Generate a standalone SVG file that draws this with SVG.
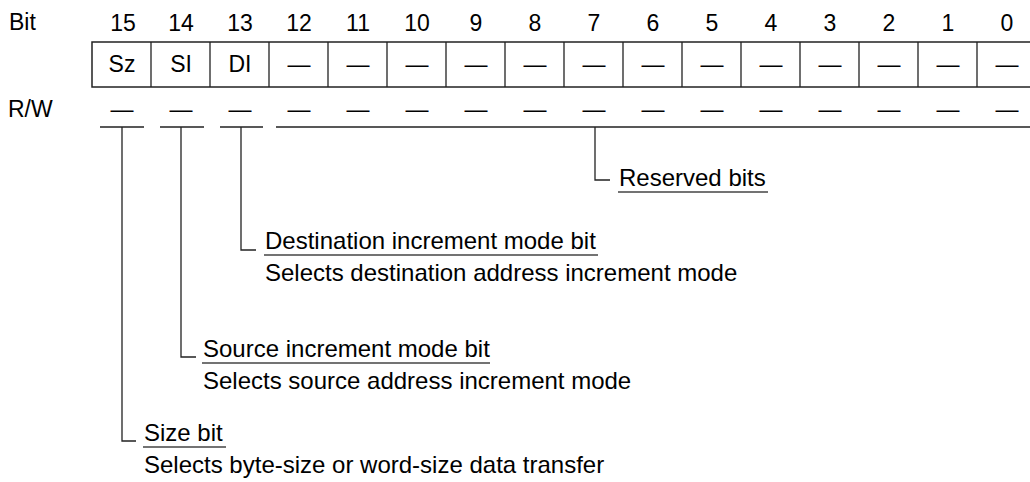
<svg xmlns="http://www.w3.org/2000/svg" width="1030" height="482" viewBox="0 0 1030 482">
<style>
text{font-family:"Liberation Sans",Arial,sans-serif;fill:#000}
.h{font-size:23px}
.c{font-size:23px;text-anchor:middle}
.d{font-size:24px}
.ln{stroke:#222;stroke-width:1.3;fill:none}
.ul{stroke:#444;stroke-width:1.3;fill:none}
.box{stroke:#222;stroke-width:1.5;fill:#fff}
</style>
<rect width="1030" height="482" fill="#fff"/>
<g id="labels">
<text class="h" x="9" y="30">Bit</text>
<text class="h" x="8" y="117">R/W</text>
</g>
<g id="bitnumbers">
<text class="c" x="123" y="31">15</text>
<text class="c" x="181" y="31">14</text>
<text class="c" x="240" y="31">13</text>
<text class="c" x="299" y="31">12</text>
<text class="c" x="358" y="31">11</text>
<text class="c" x="417" y="31">10</text>
<text class="c" x="476" y="31">9</text>
<text class="c" x="535" y="31">8</text>
<text class="c" x="594" y="31">7</text>
<text class="c" x="653" y="31">6</text>
<text class="c" x="712" y="31">5</text>
<text class="c" x="771" y="31">4</text>
<text class="c" x="830" y="31">3</text>
<text class="c" x="889" y="31">2</text>
<text class="c" x="948" y="31">1</text>
<text class="c" x="1007" y="31">0</text>
</g>
<g id="register">
<rect class="box" x="92" y="42" width="944" height="45"/>
<path class="ln" d="M151 42V87M210 42V87M269 42V87M328 42V87M387 42V87M446 42V87M505 42V87M564 42V87M623 42V87M682 42V87M741 42V87M800 42V87M859 42V87M918 42V87M977 42V87"/>
<text class="c" x="122" y="72">Sz</text>
<text class="c" x="181" y="72">SI</text>
<text class="c" x="240" y="72">DI</text>
<text class="c" x="299" y="72">—</text>
<text class="c" x="358" y="72">—</text>
<text class="c" x="417" y="72">—</text>
<text class="c" x="476" y="72">—</text>
<text class="c" x="535" y="72">—</text>
<text class="c" x="594" y="72">—</text>
<text class="c" x="653" y="72">—</text>
<text class="c" x="712" y="72">—</text>
<text class="c" x="771" y="72">—</text>
<text class="c" x="830" y="72">—</text>
<text class="c" x="889" y="72">—</text>
<text class="c" x="948" y="72">—</text>
<text class="c" x="1007" y="72">—</text>
</g>
<g id="rw">
<text class="c" x="122" y="117">—</text>
<text class="c" x="181" y="117">—</text>
<text class="c" x="240" y="117">—</text>
<text class="c" x="299" y="117">—</text>
<text class="c" x="358" y="117">—</text>
<text class="c" x="417" y="117">—</text>
<text class="c" x="476" y="117">—</text>
<text class="c" x="535" y="117">—</text>
<text class="c" x="594" y="117">—</text>
<text class="c" x="653" y="117">—</text>
<text class="c" x="712" y="117">—</text>
<text class="c" x="771" y="117">—</text>
<text class="c" x="830" y="117">—</text>
<text class="c" x="889" y="117">—</text>
<text class="c" x="948" y="117">—</text>
<text class="c" x="1007" y="117">—</text>
</g>
<g id="connectors">
<path class="ln" d="M100 127H144M160 127H204M220 127H263M276 127H1030"/>
<path class="ln" d="M595 127V180H610"/>
<path class="ln" d="M241 127V250H256"/>
<path class="ln" d="M181 127V357H196"/>
<path class="ln" d="M122 127V441H136"/>
</g>
<g id="reserved">
<text class="d" x="619" y="186">Reserved bits</text>
<path class="ul" d="M618 192H768"/>
</g>
<g id="di">
<text class="d" x="265" y="249">Destination increment mode bit</text>
<path class="ul" d="M264 255H598"/>
<text class="d" x="265" y="281">Selects destination address increment mode</text>
</g>
<g id="si">
<text class="d" x="203" y="357">Source increment mode bit</text>
<path class="ul" d="M202 363H490"/>
<text class="d" x="203" y="389">Selects source address increment mode</text>
</g>
<g id="sz">
<text class="d" x="144" y="441">Size bit</text>
<path class="ul" d="M143 447H226"/>
<text class="d" x="144" y="473">Selects byte-size or word-size data transfer</text>
</g>
</svg>
